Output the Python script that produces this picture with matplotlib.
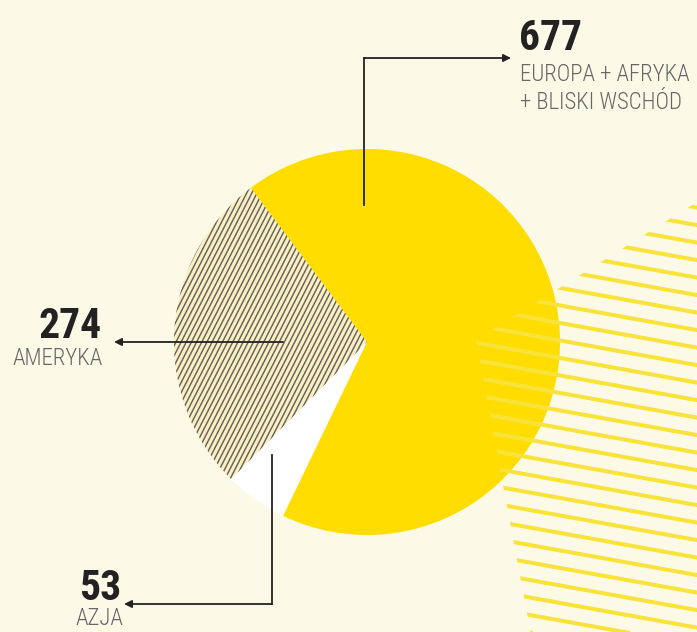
import numpy as np
import matplotlib
matplotlib.use("Agg")
import matplotlib.pyplot as plt
from matplotlib.patches import Polygon

# data
regions = ['AMERYKA', 'AZJA', 'EUROPA + AFRYKA\n+ BLISKI WSCHÓD']
values = [274, 53, 677]
value_labels = ['274', '53', '677']

W, H = 697, 632
bg = '#fdf9e7'
yellow = '#ffdd00'
dark = '#222222'
gray = '#6b6b6b'
fonts = ['Roboto Condensed', 'DejaVu Sans Condensed', 'Liberation Sans Narrow', 'DejaVu Sans']

fig = plt.figure(figsize=(W / 100, H / 100), dpi=100, facecolor=bg)
ax = fig.add_axes([0, 0, 1, 1])
ax.set_facecolor(bg)

cx, cy, r = 367, H - 342, 193
wedges, _ = ax.pie(values, colors=['#fbefc2', 'white', yellow], startangle=127,
                   center=(cx, cy), radius=r, frame=True,
                   wedgeprops=dict(linewidth=0))

# diagonal hatch inside the americas slice
hatched = wedges[0]
ang = np.radians(63)
d = np.array([np.cos(ang), np.sin(ang)])
n = np.array([-d[1], d[0]])
for k in np.arange(-60, 60):
    p = np.array([cx, cy]) + n * k * 4.6
    ln, = ax.plot([p[0] - d[0] * 300, p[0] + d[0] * 300],
                  [p[1] - d[1] * 300, p[1] + d[1] * 300],
                  color='#5e5e5e', lw=1.0, zorder=2)
    ln.set_clip_path(hatched)

# decorative stripes on the right
clip = Polygon([(697, H - 202), (476, H - 340), (532, H - 640), (697, H - 640)],
               closed=True, facecolor='none', edgecolor='none')
ax.add_patch(clip)
slope = 0.18
xs = np.array([400, 720])
for k in range(-20, 30):
    yy = 343 + 17.5 * k + slope * (xs - 477)
    ln, = ax.plot(xs, H - yy, color='#f8e33a', lw=2.9, solid_capstyle='butt', zorder=3)
    ln.set_clip_path(clip)

# leader lines
arrow = dict(arrowstyle='-|>', color=dark, lw=1.3, mutation_scale=11, shrinkA=0, shrinkB=0)
ax.plot([364, 364], [H - 205, H - 58], color=dark, lw=1.3, zorder=5)
ax.annotate('', xy=(511, H - 58), xytext=(364, H - 58), arrowprops=arrow, zorder=5)
ax.annotate('', xy=(114, H - 342), xytext=(283, H - 342), arrowprops=arrow, zorder=5)
ax.plot([272, 272], [H - 455, H - 604], color=dark, lw=1.3, zorder=5)
ax.annotate('', xy=(124, H - 604), xytext=(272, H - 604), arrowprops=arrow, zorder=5)

# labels
num = dict(family=fonts, fontstretch='condensed', fontsize=30, fontweight='bold',
           color=dark, zorder=6)
lab = dict(family=fonts, fontstretch='condensed', fontsize=16.5, fontweight='light',
           color='#666666', zorder=6, linespacing=1.27)
ax.text(519, H - 50, value_labels[2], ha='left', va='baseline', **num)
ax.text(520, H - 63, regions[2], ha='left', va='top', **lab)
ax.text(102, H - 338, value_labels[0], ha='right', va='baseline', **num)
ax.text(103, H - 347, regions[0], ha='right', va='top', **lab)
ax.text(79, H - 600, value_labels[1], ha='left', va='baseline', **num)
ax.text(76, H - 607, regions[1], ha='left', va='top', **lab)

ax.set_xlim(0, W)
ax.set_ylim(0, H)
ax.set_aspect('auto')
ax.axis('off')
fig.savefig('out.png', dpi=100, facecolor=bg)
plt.close(fig)
